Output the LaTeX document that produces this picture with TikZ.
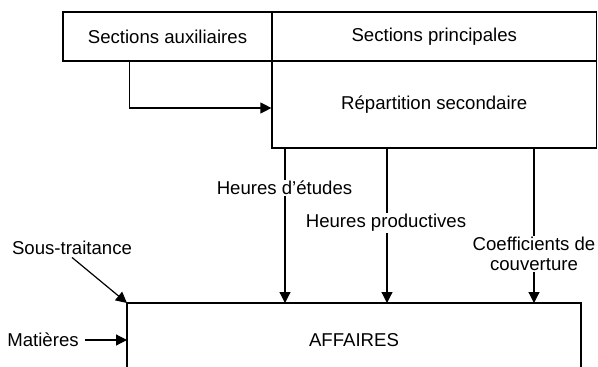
\documentclass[tikz,border=0pt]{standalone}
\usepackage{fontspec}
\setmainfont{Liberation Sans}
\usetikzlibrary{arrows.meta}
\begin{document}
\begin{tikzpicture}[x=1pt,y=-1pt,line width=1.2pt,
  txt/.style={font=\fontsize{18.6}{19.5}\selectfont,inner sep=2pt},
  boxnode/.style={draw,txt},
  lab/.style={txt,fill=white,align=center,inner sep=1pt},
  arr/.style={-{Triangle[length=11pt,width=11pt]}}]
\useasboundingbox (0,0) rectangle (598,367);
% top boxes
\node[boxnode,minimum width=209pt,minimum height=49pt] (aux) at (167.5,36.5) {Sections auxiliaires};
\node[boxnode,minimum width=324.5pt,minimum height=49pt] (princ) at (434.25,36.5) {Sections principales};
\node[boxnode,minimum width=324.5pt,minimum height=87pt] (rep) at (434.25,104.5) {Répartition secondaire};
% affaires box (open at bottom)
\coordinate (bl) at (127,372);
\coordinate (tl) at (127,303);
\coordinate (tr) at (581,303);
\coordinate (br) at (581,372);
\draw (bl) -- (tl) -- (tr) -- (br);
\node[txt] (aff) at (354,340) {AFFAIRES};
% auxiliary to secondary
\draw[arr] (aux.south west) ++(67,0) |- ([yshift=-3.5pt]rep.west);
% vertical arrows
\coordinate (t1) at (285,303);
\coordinate (t2) at (387,303);
\coordinate (t3) at (534,303);
\draw[arr] (rep.south -| t1) -- (t1);
\draw[arr] (rep.south -| t2) -- (t2);
\draw[arr] (rep.south -| t3) -- (t3);
\node[lab] (l1) at (284.5,188) {Heures d'études};
\node[lab] (l2) at (386,223) {Heures productives};
\node[lab] (l3) at (534,254) {Coefficients de\\couverture};
% inputs
\node[txt] (sous) at (72,248) {Sous-traitance};
\draw[arr] (sous.south) -- (tl);
\node[txt] (mat) at (43,340) {Matières};
\draw[arr] (mat.east) ++(4,0) -- (tl |- mat.east);
\end{tikzpicture}
\end{document}
